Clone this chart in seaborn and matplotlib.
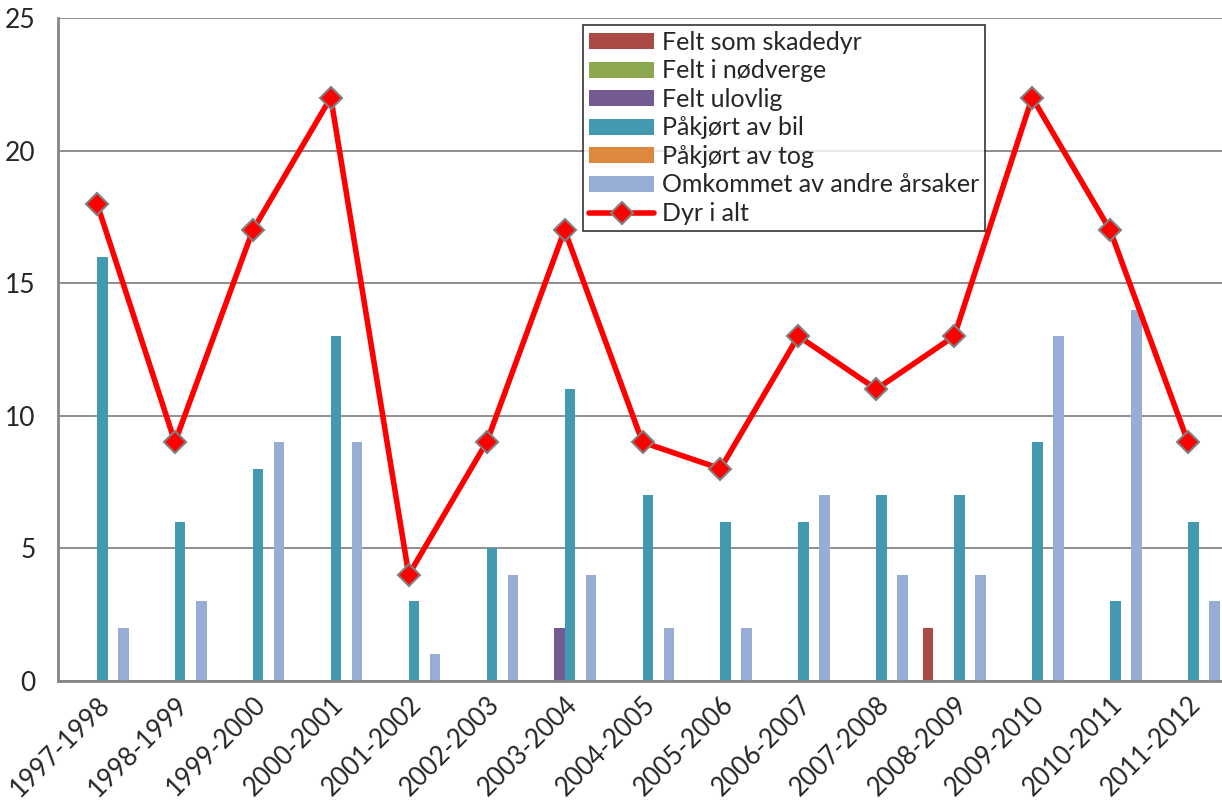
import pandas as pd
import seaborn as sns
import matplotlib.pyplot as plt

seasons = ["1997-1998", "1998-1999", "1999-2000", "2000-2001", "2001-2002",
           "2002-2003", "2003-2004", "2004-2005", "2005-2006", "2006-2007",
           "2007-2008", "2008-2009", "2009-2010", "2010-2011", "2011-2012"]

series_names = ["Felt som skadedyr", "Felt i nødverge", "Felt ulovlig",
                "Påkjørt av bil", "Påkjørt av tog", "Omkommet av andre årsaker"]

felt_skadedyr = [0, 0, 0, 0, 0, 0, 0, 0, 0, 0, 0, 2, 0, 0, 0]
felt_nodverge = [0, 0, 0, 0, 0, 0, 0, 0, 0, 0, 0, 0, 0, 0, 0]
felt_ulovlig = [0, 0, 0, 0, 0, 0, 2, 0, 0, 0, 0, 0, 0, 0, 0]
pakjort_bil = [16, 6, 8, 13, 3, 5, 11, 7, 6, 6, 7, 7, 9, 3, 6]
pakjort_tog = [0, 0, 0, 0, 0, 0, 0, 0, 0, 0, 0, 0, 0, 0, 0]
andre_arsaker = [2, 3, 9, 9, 1, 4, 4, 2, 2, 7, 4, 4, 13, 14, 3]
dyr_i_alt = [18, 9, 17, 22, 4, 9, 17, 9, 8, 13, 11, 13, 22, 17, 9]

colors = ["#AB4A45", "#8BA84E", "#735A93", "#4399B0", "#DE873F", "#97ADD6"]

# long format for seaborn
values = [felt_skadedyr, felt_nodverge, felt_ulovlig, pakjort_bil, pakjort_tog, andre_arsaker]
rows = []
for name, vals in zip(series_names, values):
    for s, v in zip(seasons, vals):
        rows.append({"season": s, "series": name, "count": v})
df = pd.DataFrame(rows)

sns.set_style("white")
plt.rcParams['font.family'] = ['Lato', 'DejaVu Sans']

fig = plt.figure(figsize=(12.22, 8), dpi=100)
ax = fig.add_axes([0.0475, 0.149, 0.9566, 0.8285])

sns.barplot(data=df, x="season", y="count", hue="series", order=seasons,
            hue_order=series_names, palette=colors, width=0.81, gap=0,
            saturation=1, linewidth=0, ax=ax, legend=True)

line_df = pd.DataFrame({"pos": range(len(seasons)), "total": dyr_i_alt})
sns.lineplot(data=line_df, x="pos", y="total", color="#FF0000", linewidth=4,
             marker="D", markersize=11, markerfacecolor="#FF0000",
             markeredgecolor="#808080", markeredgewidth=1.5,
             label="Dyr i alt", ax=ax, zorder=5)

ax.set_xlim(-0.5, 14.5)
ax.set_ylim(0, 25)
ax.set_yticks(range(0, 26, 5))
ax.yaxis.grid(True, color="#868686", linewidth=1.3)
ax.set_axisbelow(True)
ax.set_xlabel("")
ax.set_ylabel("")

for side in ["top", "right"]:
    ax.spines[side].set_visible(False)
for side in ["left", "bottom"]:
    ax.spines[side].set_color("#868686")
    ax.spines[side].set_linewidth(2)

ax.tick_params(axis="y", labelsize=19, length=0, pad=16)
ax.tick_params(axis="x", labelsize=18.5, length=0, pad=8)
plt.setp(ax.get_xticklabels(), rotation=45, ha="right", rotation_mode="anchor")

leg = ax.legend(loc="upper left", bbox_to_anchor=(0.449, 0.99), fontsize=18,
                frameon=True, fancybox=False, edgecolor="black",
                handlelength=2.6, handleheight=0.6, labelspacing=0.22,
                handletextpad=0.3, borderpad=0.25, borderaxespad=0)
leg.get_frame().set_linewidth(1.2)

plt.savefig("out.png", dpi=100)
